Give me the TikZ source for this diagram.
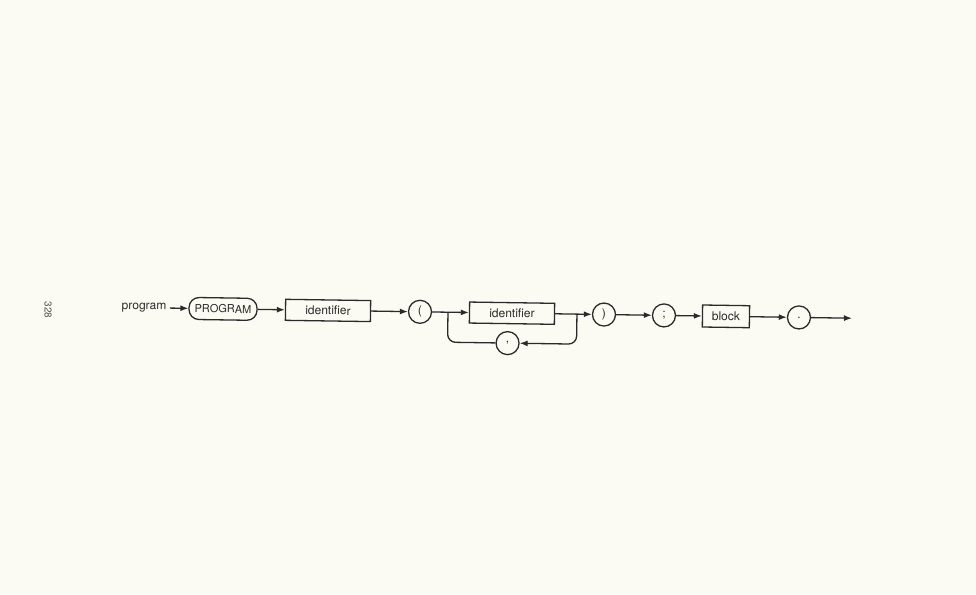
\documentclass[tikz,border=0pt]{standalone}
\usepackage{fontspec}
\setmainfont{TeX Gyre Heros}
\usetikzlibrary{arrows.meta}
\definecolor{paper}{HTML}{FCFBF3}
\definecolor{ink}{HTML}{2A2A2A}

\begin{document}
\begin{tikzpicture}[
    x=1pt, y=-1pt,
    lbl/.style={font=\fontsize{12}{14}\selectfont, text=ink},
    box/.style={lbl, draw=ink, line width=1.3pt, minimum height=21pt, inner sep=0pt},
    kw/.style={box, font=\fontsize{11}{13}\selectfont, rounded corners=10pt, minimum width=68pt, minimum height=22pt},
    sym/.style={lbl, draw=ink, line width=1.3pt, circle, minimum size=23pt, inner sep=0pt},
    arr/.style={draw=ink, line width=1.3pt, -{Latex[length=8pt, width=6pt]}},
]
\def\r{313}

% Page
\fill[paper] (0,0) rectangle (976,594);
\node[font=\fontsize{10}{11}\selectfont, text=ink!80, rotate=-90] (page) at (48,310) {328};

\begin{scope}[rotate around={-0.85:(500,313)}, transform shape]
% Diagram name and nodes
\node[lbl] (name) at (144,\r) {program};
\node[kw] (kwprog) at (223,\r) {PROGRAM};
\node[box, minimum width=85pt] (id1) at (328,\r) {identifier};
\node[sym] (lpar) at (420,\r) {(};
\node[box, minimum width=85pt] (id2) at (512,\r) {identifier};
\node[sym] (comma) at (508,343) {,};
\node[sym] (rpar) at (604,\r) {)};
\node[sym] (semi) at (664,\r) {;};
\node[box, minimum width=47pt, minimum height=22pt] (blk) at (726,\r) {block};
\node[sym] (dot) at (799,\r) {.};
\coordinate (out) at (852,\r);

% Loop junctions
\coordinate (jl) at (448,\r);
\coordinate (jr) at (577,\r);

% Main path
\draw[arr] (name) -- (kwprog);
\draw[arr] (kwprog) -- (id1);
\draw[arr] (id1) -- (lpar);
\draw[arr] (lpar) -- (id2);
\draw[arr] (id2) -- (rpar);
\draw[arr] (rpar) -- (semi);
\draw[arr] (semi) -- (blk);
\draw[arr] (blk) -- (dot);
\draw[arr] (dot) -- (out);

% Repetition through the comma
\draw[arr, rounded corners=8pt] (jr) |- (comma);
\draw[draw=ink, line width=1.3pt, rounded corners=8pt] (comma) -| (jl);
\end{scope}

\end{tikzpicture}
\end{document}
